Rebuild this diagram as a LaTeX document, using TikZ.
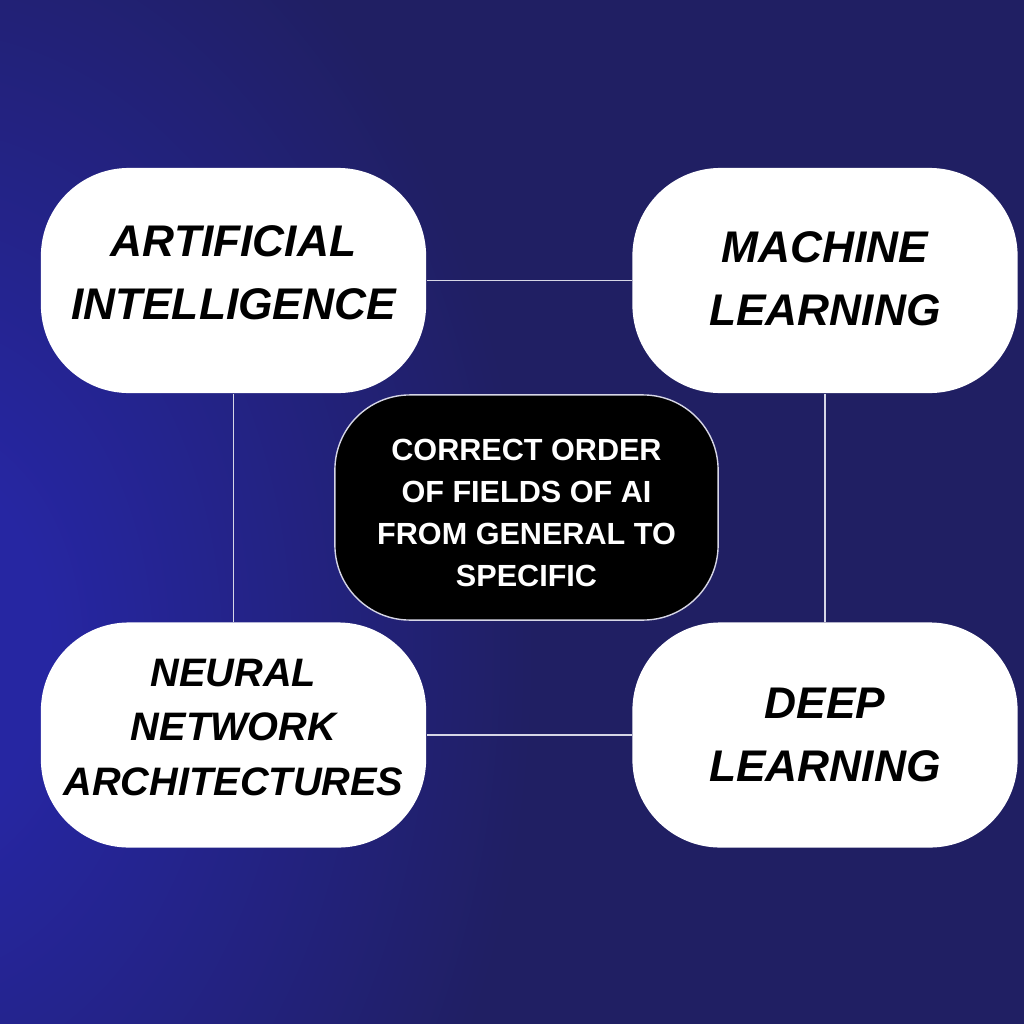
\documentclass[tikz,border=0pt]{standalone}
\usepackage{fontspec}
\newfontfamily\boxfont{Liberation Sans}
\definecolor{basec}{HTML}{201F63}
\definecolor{glowc}{HTML}{2626A2}
\definecolor{linec}{HTML}{D6D6E6}
\pgfdeclareradialshading{bgglow}{\pgfpoint{0bp}{0bp}}{color(0bp)=(glowc); color(5bp)=(glowc); color(24bp)=(basec); color(50bp)=(basec)}
\tikzset{
  wbox/.style={fill=white, draw=none, rounded corners=0.88cm, minimum width=3.85cm, minimum height=2.25cm, inner sep=0pt},
  cbox/.style={fill=black, draw=linec, line width=0.4pt, rounded corners=0.75cm, minimum width=3.83cm, minimum height=2.25cm, inner sep=0pt},
  bigtxt/.style={align=center, inner sep=0pt, text=black, font=\boxfont\bfseries\itshape\fontsize{12.6}{17.8}\selectfont},
  nntxt/.style={align=center, inner sep=0pt, text=black, font=\boxfont\bfseries\itshape\fontsize{11.3}{15.6}\selectfont},
  ctxt/.style={align=center, inner sep=0pt, text=white, font=\boxfont\bfseries\fontsize{8.7}{12}\selectfont},
  link/.style={draw=linec, line width=0.55pt}
}
\begin{document}
\begin{tikzpicture}[x=0.01cm, y=-0.01cm]
  \useasboundingbox (0,0) rectangle (1024,1024);
  \fill[basec] (0,0) rectangle (1024,1024);
  \begin{scope}
    \clip (0,0) rectangle (1024,1024);
    \shade[shading=bgglow] (-80,650) ellipse (640 and 900);
  \end{scope}

  \node[wbox] (ai) at (233.5,280.5) {};
  \node[wbox] (ml) at (825,280.5) {};
  \node[wbox] (nn) at (233.5,735) {};
  \node[wbox] (dl) at (825,735) {};
  \node[cbox] (ctr) at (526.5,507.5) {};

  \draw[link] (ai.east) -- (ml.west);
  \draw[link] (ai.south) -- (nn.north);
  \draw[link] (ml.south) -- (dl.north);
  \draw[link] (nn.east) -- (dl.west);

  \node[bigtxt, yshift=0.08cm] (ait) at (ai.center) {ARTIFICIAL\\INTELLIGENCE};
  \node[bigtxt, yshift=0.02cm] (mlt) at (ml.center) {MACHINE\\LEARNING};
  \node[nntxt, yshift=0.075cm] (nnt) at (nn.center) {NEURAL\\NETWORK\\ARCHITECTURES};
  \node[bigtxt] (dlt) at (dl.center) {DEEP\\LEARNING};
  \node[ctxt, yshift=-0.055cm] (ctrt) at (ctr.center) {CORRECT ORDER\\OF FIELDS OF AI\\FROM GENERAL TO\\SPECIFIC};
\end{tikzpicture}
\end{document}
